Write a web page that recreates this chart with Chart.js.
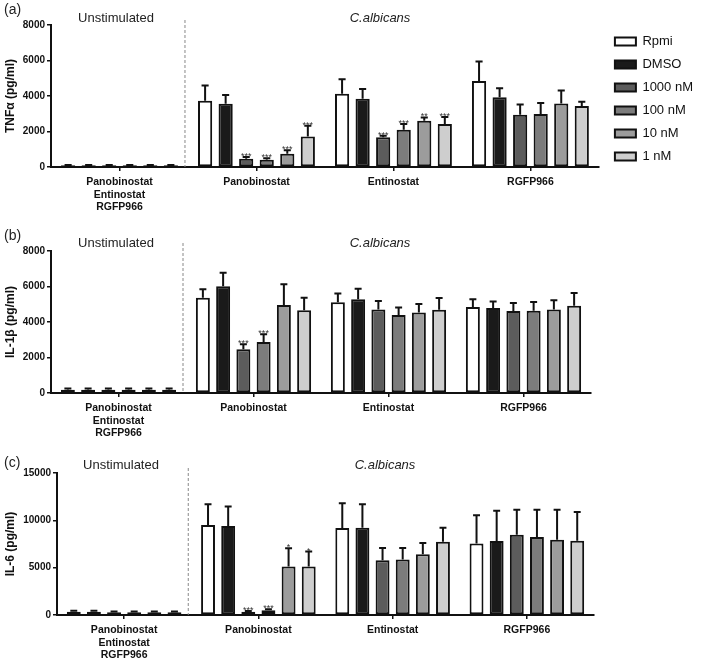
<!DOCTYPE html>
<html><head><meta charset="utf-8">
<script src="https://cdn.jsdelivr.net/npm/chart.js@4.4.1/dist/chart.umd.min.js"></script>
<style>
html,body{margin:0;padding:0;background:#fff;}
body{width:709px;height:660px;position:relative;overflow:hidden;}
canvas{position:absolute;left:0;}
</style></head><body>
<canvas id="ca" width="709" height="212" style="top:0"></canvas>
<canvas id="cb" width="709" height="230" style="top:212px"></canvas>
<canvas id="cc" width="709" height="218" style="top:442px"></canvas>
<script>
// ---- data ----
const categories = [["Panobinostat","Entinostat","RGFP966"], "Panobinostat", "Entinostat", "RGFP966"];
const seriesLabels = ["Rpmi", "DMSO", "1000 nM", "100 nM", "10 nM", "1 nM"];

// TNF-alpha (pg/ml)
const tnfRpmi = [100, 3730, 4120, 4850];
const tnfDmso = [100, 3560, 3840, 3930];
const tnf1000 = [100, 470, 1670, 2940];
const tnf100  = [100, 410, 2100, 2980];
const tnf10   = [100, 750, 2600, 3580];
const tnf1    = [100, 1720, 2420, 3430];
const tnfErrRpmi = [15, 860, 820, 1090];
const tnfErrDmso = [15, 500, 560, 510];
const tnfErr1000 = [15, 90, 90, 580];
const tnfErr100  = [15, 80, 320, 620];
const tnfErr10   = [15, 190, 190, 730];
const tnfErr1    = [15, 600, 390, 240];
const tnfStars1000 = ["", "***", "***", ""];
const tnfStars100  = ["", "***", "***", ""];
const tnfStars10   = ["", "***", "**", ""];
const tnfStars1    = ["", "***", "***", ""];
const tnfTicks = [0, 2000, 4000, 6000, 8000];

// IL-1beta (pg/ml)
const il1Rpmi = [190, 5370, 5110, 4850];
const il1Dmso = [190, 6010, 5280, 4790];
const il11000 = [190, 2460, 4710, 4620];
const il1100  = [190, 2870, 4390, 4640];
const il110   = [190, 4960, 4530, 4710];
const il11    = [190, 4660, 4690, 4920];
const il1ErrRpmi = [70, 470, 490, 430];
const il1ErrDmso = [70, 770, 600, 370];
const il1Err1000 = [70, 280, 470, 450];
const il1Err100  = [70, 440, 420, 490];
const il1Err10   = [70, 1160, 480, 510];
const il1Err1    = [70, 710, 660, 710];
const il1Stars1000 = ["", "***", "", ""];
const il1Stars100  = ["", "***", "", ""];
const il1Ticks = [0, 2000, 4000, 6000, 8000];

// IL-6 (pg/ml)
const il6Rpmi = [350, 9500, 9180, 7540];
const il6Dmso = [350, 9390, 9220, 7820];
const il61000 = [300, 350, 5780, 8480];
const il6100  = [280, 490, 5850, 8240];
const il610   = [300, 5120, 6410, 7960];
const il61    = [300, 5120, 7750, 7850];
const il6ErrRpmi = [100, 2200, 2630, 3010];
const il6ErrDmso = [100, 2070, 2490, 3190];
const il6Err1000 = [80, 70, 1300, 2630];
const il6Err100  = [80, 110, 1230, 2870];
const il6Err10   = [80, 1930, 1200, 3150];
const il6Err1    = [80, 1580, 1470, 3020];
const il6Stars10 = ["", "*", "", ""];
const il6Stars1  = ["", "*", "", ""];
const il6Stars1000 = ["", "***", "", ""];
const il6Stars100  = ["", "***", "", ""];
const il6Ticks = [0, 5000, 10000, 15000];

// ---- styles ----
const FONT = '"Liberation Sans", Arial, Helvetica, sans-serif';
Chart.defaults.font.family = FONT;
const fills = ["#ffffff", "#1a1a1a", "#5c5c5c", "#7c7c7c", "#9c9c9c", "#cecece"];
const INK = "#111111";

function makeDatasets(values, errs, stars) {
  return seriesLabels.map((lab, k) => ({
    label: lab,
    data: values[k],
    errors: errs[k],
    stars: stars[k],
    yAxisID: 'y',
    backgroundColor: fills[k],
    borderColor: INK,
    borderWidth: 2,
    borderSkipped: false,
    categoryPercentage: 0.9,
    barPercentage: 0.69
  }));
}

const errorBars = {
  id: 'errorBars',
  afterDatasetsDraw(chart) {
    const ctx = chart.ctx, y = chart.scales.y;
    chart.data.datasets.forEach((ds, di) => {
      const meta = chart.getDatasetMeta(di);
      meta.data.forEach((bar, i) => {
        const top = y.getPixelForValue(ds.data[i] + ds.errors[i]);
        const cap = bar.width * 0.5;
        ctx.save();
        ctx.strokeStyle = INK; ctx.lineWidth = 2;
        ctx.beginPath();
        ctx.moveTo(bar.x, bar.y); ctx.lineTo(bar.x, top);
        ctx.moveTo(bar.x - cap / 2, top); ctx.lineTo(bar.x + cap / 2, top);
        ctx.stroke();
        const s = ds.stars ? ds.stars[i] : "";
        if (s) {
          ctx.fillStyle = "#333";
          ctx.font = '9px ' + FONT;
          ctx.textAlign = 'center'; ctx.textBaseline = 'alphabetic';
          ctx.fillText(s, bar.x, top + 2);
        }
        ctx.restore();
      });
    });
  }
};

const annot = {
  id: 'annot',
  afterDraw(chart, args, o) {
    const ctx = chart.ctx, x = chart.scales.x, area = chart.chartArea;
    const xd = (x.getPixelForValue(0) + x.getPixelForValue(1)) / 2 + o.dashShift;
    ctx.save();
    ctx.setLineDash([3, 2]); ctx.strokeStyle = '#888'; ctx.lineWidth = 1;
    ctx.beginPath(); ctx.moveTo(xd, o.dashTop); ctx.lineTo(xd, area.bottom); ctx.stroke();
    ctx.setLineDash([]);
    ctx.fillStyle = '#222'; ctx.textBaseline = 'middle';
    ctx.font = '14px ' + FONT; ctx.textAlign = 'left';
    ctx.fillText(o.tag, 4, o.tagY);
    ctx.font = '13px ' + FONT; ctx.textAlign = 'center';
    ctx.fillText('Unstimulated', o.unstimX, o.labelY);
    ctx.font = 'italic 13px ' + FONT;
    ctx.fillText('C.albicans', o.albX, o.labelY);
    ctx.restore();
  }
};

function makeChart(id, p) {
  return new Chart(document.getElementById(id), {
    type: 'bar',
    data: { labels: categories, datasets: makeDatasets(p.values, p.errs, p.stars) },
    plugins: [errorBars, annot],
    options: {
      responsive: false,
      animation: false,
      devicePixelRatio: 1,
      layout: { padding: { top: p.padTop, left: 0, right: p.padRight, bottom: 0 } },
      plugins: {
        tooltip: { enabled: false },
        legend: {
          display: p.legend, position: 'right', align: 'start',
          labels: { boxWidth: 21, boxHeight: 8, padding: 10, color: INK, font: { family: FONT, size: 13 } }
        },
        annot: p.annot
      },
      scales: {
        x: {
          offset: true,
          ticks: { color: INK, font: { family: FONT, size: 10.5, weight: 'bold' }, padding: 5, maxRotation: 0, autoSkip: false },
          grid: { offset: false, drawOnChartArea: false, drawTicks: true, tickLength: 4, color: INK, lineWidth: 1.5 },
          border: { color: INK, width: 2 },
          afterFit(s) { s.height = p.xh; }
        },
        y: {
          min: 0, max: p.ticks[p.ticks.length - 1],
          afterBuildTicks(s) { s.ticks = p.ticks.map(v => ({ value: v })); },
          ticks: { color: INK, font: { family: FONT, size: 10, weight: 'bold' }, padding: 2, callback: v => String(v) },
          grid: { drawOnChartArea: false, drawTicks: true, tickLength: 4, color: INK, lineWidth: 1.5 },
          border: { color: INK, width: 2 },
          title: { display: true, text: p.ytitle, color: INK, font: { family: FONT, size: 12, weight: 'bold' }, padding: { top: 3, bottom: 0 } },
          afterFit(s) { s.width = p.yw; }
        },
        gap: {
          type: 'linear', position: 'right', display: p.legend,
          grid: { display: false }, border: { display: false }, ticks: { display: false },
          afterFit(s) { s.width = 6; }
        }
      }
    }
  });
}

makeChart('ca', {
  values: [tnfRpmi, tnfDmso, tnf1000, tnf100, tnf10, tnf1],
  errs: [tnfErrRpmi, tnfErrDmso, tnfErr1000, tnfErr100, tnfErr10, tnfErr1],
  stars: [[], [], tnfStars1000, tnfStars100, tnfStars10, tnfStars1],
  ticks: tnfTicks, ytitle: 'TNFα (pg/ml)',
  padTop: 25, padRight: 6, xh: 45, yw: 51, legend: true,
  annot: { tag: '(a)', tagY: 10, labelY: 18.5, unstimX: 116, albX: 380, dashTop: 20, dashShift: -3 }
});
makeChart('cb', {
  values: [il1Rpmi, il1Dmso, il11000, il1100, il110, il11],
  errs: [il1ErrRpmi, il1ErrDmso, il1Err1000, il1Err100, il1Err10, il1Err1],
  stars: [[], [], il1Stars1000, il1Stars100, [], []],
  ticks: il1Ticks, ytitle: 'IL-1β (pg/ml)',
  padTop: 39, padRight: 112, xh: 49, yw: 51, legend: false,
  annot: { tag: '(b)', tagY: 24, labelY: 31, unstimX: 116, albX: 380, dashTop: 31, dashShift: -3 }
});
makeChart('cc', {
  values: [il6Rpmi, il6Dmso, il61000, il6100, il610, il61],
  errs: [il6ErrRpmi, il6ErrDmso, il6Err1000, il6Err100, il6Err10, il6Err1],
  stars: [[], [], il6Stars1000, il6Stars100, il6Stars10, il6Stars1],
  ticks: il6Ticks, ytitle: 'IL-6 (pg/ml)',
  padTop: 31, padRight: 109, xh: 45, yw: 57, legend: false,
  annot: { tag: '(c)', tagY: 21, labelY: 23, unstimX: 121, albX: 385, dashTop: 26, dashShift: -3 }
});
</script>
</body></html>
